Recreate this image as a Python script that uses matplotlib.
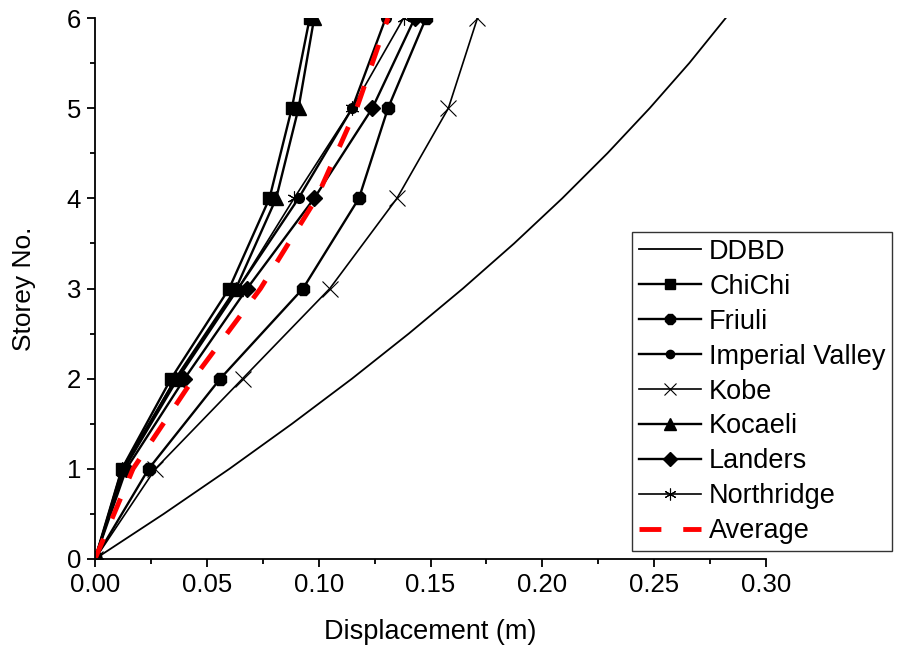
"""
Storey displacement profiles: DDBD design vs. time-history records.
Output: out.png
"""

import matplotlib
matplotlib.use("Agg")
import matplotlib.pyplot as plt
from matplotlib.ticker import MultipleLocator, FormatStrFormatter

# ---------------------------------------------------------------------------
# Data
# ---------------------------------------------------------------------------

storeys = [0, 1, 2, 3, 4, 5, 6]

ddbd_storeys = [0, 0.5, 1, 1.5, 2, 2.5, 3, 3.5, 4, 4.5, 5, 5.5, 6]
ddbd         = [0, 0.0307, 0.0601, 0.0881, 0.1149, 0.1403, 0.1645,
                0.1874, 0.2089, 0.2291, 0.2480, 0.2657, 0.282]

chichi     = [0, 0.012, 0.034, 0.060, 0.078, 0.088, 0.096]
friuli     = [0, 0.024, 0.056, 0.093, 0.118, 0.131, 0.148]
imperial   = [0, 0.013, 0.037, 0.064, 0.091, 0.115, 0.130]
kobe       = [0, 0.027, 0.066, 0.105, 0.135, 0.158, 0.171]
kocaeli    = [0, 0.013, 0.036, 0.063, 0.081, 0.091, 0.098]
landers    = [0, 0.014, 0.040, 0.068, 0.098, 0.124, 0.143]
northridge = [0, 0.012, 0.036, 0.064, 0.089, 0.115, 0.138]
average    = [0, 0.017, 0.044, 0.074, 0.099, 0.117, 0.131]

# ---------------------------------------------------------------------------
# Style
# ---------------------------------------------------------------------------

plt.rcParams.update({
    "font.family": ["Liberation Sans", "DejaVu Sans"],
    "font.size": 18,
    "axes.linewidth": 1.3,
    "xtick.direction": "out",
    "ytick.direction": "out",
    "xtick.major.size": 6,
    "ytick.major.size": 6,
    "xtick.minor.size": 3.5,
    "ytick.minor.size": 3.5,
    "xtick.major.width": 1.3,
    "ytick.major.width": 1.3,
    "xtick.minor.width": 1.3,
    "ytick.minor.width": 1.3,
})

fig = plt.figure(figsize=(8.97, 6.46), dpi=100)
ax = fig.add_axes([95 / 897, 1 - 559 / 646, 671 / 897, 541 / 646])

LW = 1.7

ax.plot(ddbd, ddbd_storeys, color="black", lw=1.3, label="DDBD")
ax.plot(chichi, storeys, color="black", lw=LW, marker="s", ms=8.5,
        label="ChiChi")
ax.plot(friuli, storeys, color="black", lw=LW, marker="8", ms=10,
        label="Friuli")
ax.plot(imperial, storeys, color="black", lw=LW, marker="o", ms=7,
        label="Imperial Valley")
ax.plot(kobe, storeys, color="black", lw=1.2, marker="x", ms=11,
        mew=0.8, label="Kobe")
ax.plot(kocaeli, storeys, color="black", lw=LW, marker="^", ms=10,
        label="Kocaeli")
ax.plot(landers, storeys, color="black", lw=LW, marker="D", ms=8,
        label="Landers")
ax.plot(northridge, storeys, color="black", lw=1.2, marker=(6, 2, 0), ms=10,
        mew=0.8, label="Northridge")
ax.plot(average, storeys, color="red", lw=3.5, dashes=(4.5, 4.5),
        label="Average")

ax.set_xlim(0, 0.30)
ax.set_ylim(0, 6)
ax.xaxis.set_major_locator(MultipleLocator(0.05))
ax.xaxis.set_minor_locator(MultipleLocator(0.025))
ax.xaxis.set_major_formatter(FormatStrFormatter("%.2f"))
ax.yaxis.set_major_locator(MultipleLocator(1))
ax.yaxis.set_minor_locator(MultipleLocator(0.5))
ax.tick_params(labelsize=18.5, pad=4)

ax.spines["top"].set_visible(False)
ax.spines["right"].set_visible(False)

ax.set_xlabel("Displacement (m)", fontsize=19.5, labelpad=16)
ax.set_ylabel("Storey No.", fontsize=19, labelpad=22)

leg = ax.legend(loc="upper left", bbox_to_anchor=(632 / 897, 1 - 232 / 646),
                bbox_transform=fig.transFigure, fontsize=19.5,
                frameon=True, fancybox=False, framealpha=1,
                edgecolor="#333333", handlelength=2.3, handletextpad=0.3,
                labelspacing=0.33, borderpad=0.25, borderaxespad=0,
                markerscale=0.85)
leg.get_frame().set_linewidth(1.0)

fig.savefig("out.png", dpi=100)
